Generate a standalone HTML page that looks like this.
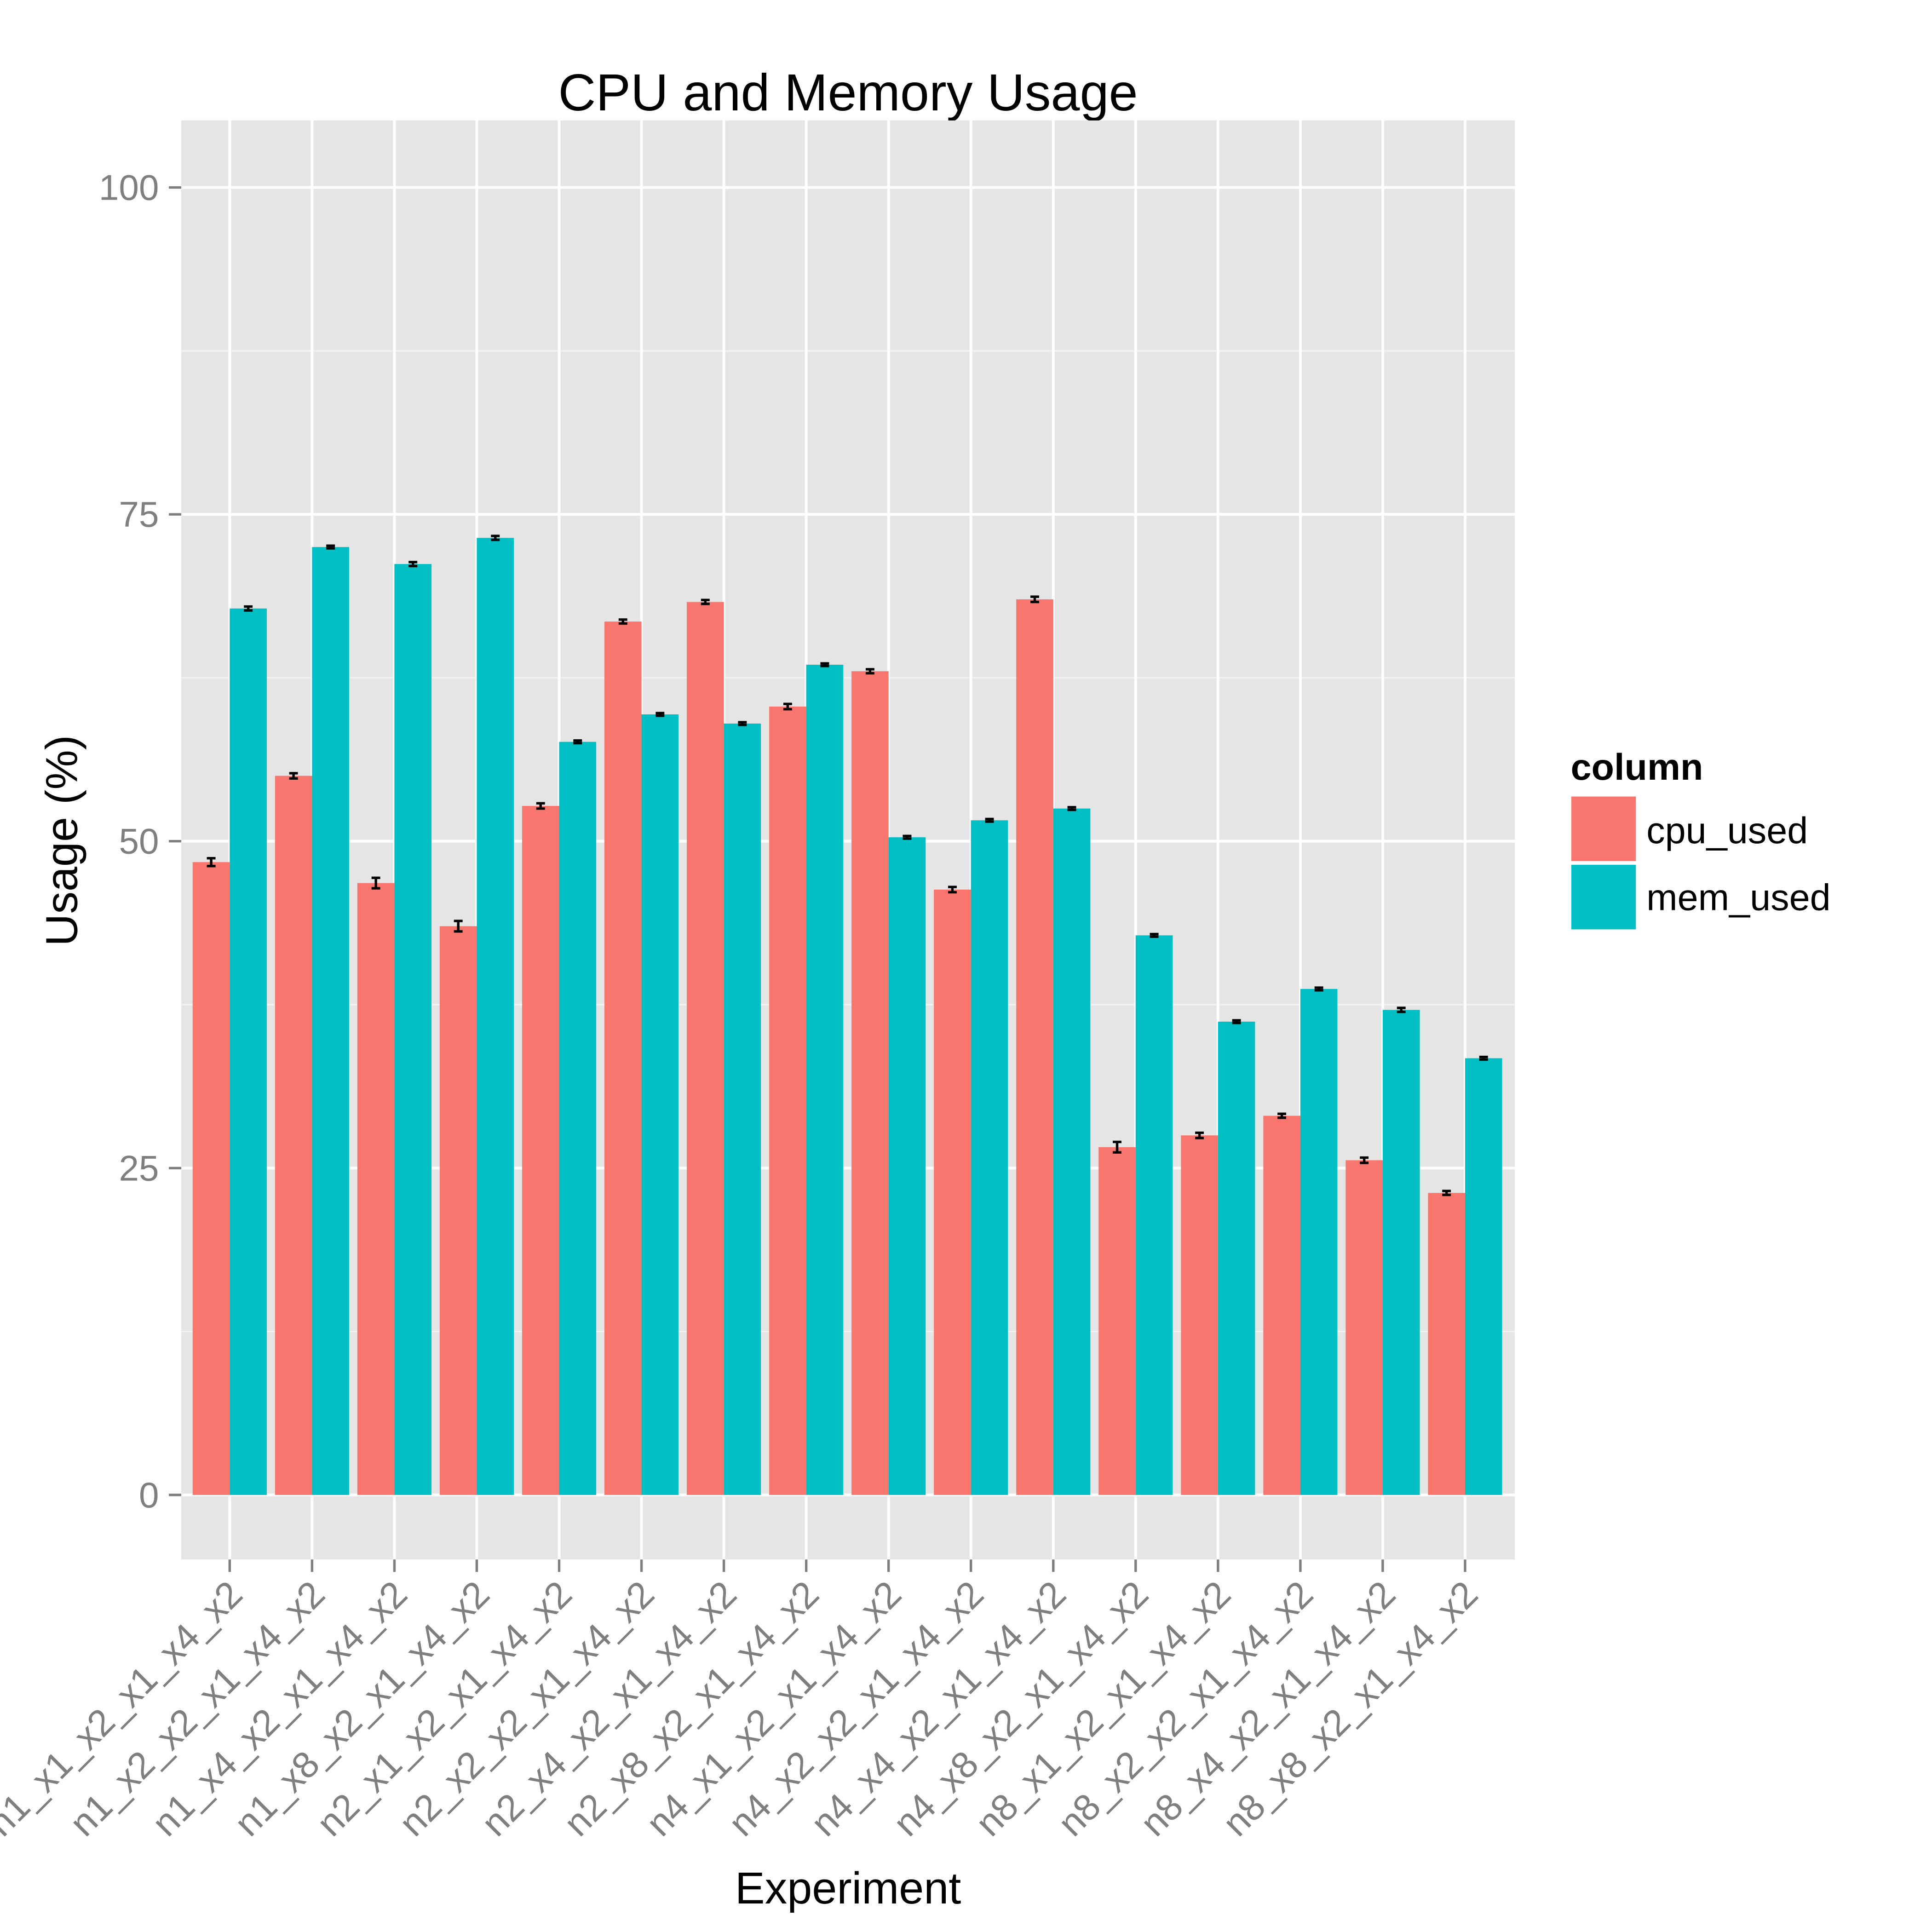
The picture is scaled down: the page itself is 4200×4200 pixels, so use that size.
<!DOCTYPE html>
<html><head><meta charset="utf-8">
<style>html,body{margin:0;padding:0;background:#fff;}svg{display:block;}</style></head>
<body>
<svg id="chart" xmlns="http://www.w3.org/2000/svg" width="4200" height="4200" viewBox="0 0 1556 1556" font-family="Liberation Sans, sans-serif">
<rect width="1556" height="1556" fill="#fff"/>
<text x="683" y="89" font-size="42" text-anchor="middle" fill="#000">CPU and Memory Usage</text>
<rect x="146" y="97" width="1074" height="1159" fill="#e5e5e5"/>
<g id="grid"></g>
<g id="bars"></g>
<g id="axes"></g>
<text x="683" y="1533" font-size="36" text-anchor="middle">Experiment</text>
<text transform="translate(62,677) rotate(-90)" font-size="36" text-anchor="middle">Usage (%)</text>
<g>
<text x="1265" y="628" font-size="30" font-weight="bold">column</text>
<rect x="1265" y="641" width="53" height="53" fill="#f8766d" stroke="#fff" stroke-width="1"/>
<rect x="1265" y="696" width="53" height="53" fill="#00bfc4" stroke="#fff" stroke-width="1"/>
<text x="1326" y="679" font-size="30">cpu_used</text>
<text x="1326" y="733" font-size="30">mem_used</text>
</g>
</svg>
<script>
const categories=["n1_x1_x2_x1_x4_x2","n1_x2_x2_x1_x4_x2","n1_x4_x2_x1_x4_x2","n1_x8_x2_x1_x4_x2","n2_x1_x2_x1_x4_x2","n2_x2_x2_x1_x4_x2","n2_x4_x2_x1_x4_x2","n2_x8_x2_x1_x4_x2","n4_x1_x2_x1_x4_x2","n4_x2_x2_x1_x4_x2","n4_x4_x2_x1_x4_x2","n4_x8_x2_x1_x4_x2","n8_x1_x2_x1_x4_x2","n8_x2_x2_x1_x4_x2","n8_x4_x2_x1_x4_x2","n8_x8_x2_x1_x4_x2"];
const cpuValues=[48.4,55.0,46.8,43.5,52.7,66.8,68.3,60.3,63.0,46.3,68.5,26.6,27.5,29.0,25.6,23.1];
const memValues=[67.8,72.5,71.2,73.2,57.6,59.7,59.0,63.5,50.3,51.6,52.5,42.8,36.2,38.7,37.1,33.4];
const cpuErr=[0.3,0.2,0.4,0.4,0.2,0.15,0.15,0.2,0.15,0.2,0.2,0.4,0.2,0.15,0.2,0.15];
const memErr=[0.15,0.1,0.15,0.15,0.1,0.1,0.1,0.1,0.1,0.1,0.1,0.1,0.1,0.1,0.15,0.1];
const yTicks=[0,25,50,75,100];
const yMinor=[12.5,37.5,62.5,87.5];
const NS="http://www.w3.org/2000/svg";
const y=v=>1204-v*10.53;
const x=i=>185+i*66.33;
const bw=66.33*0.45;
function mk(tag,attrs,parent){const e=document.createElementNS(NS,tag);for(const k in attrs)e.setAttribute(k,attrs[k]);parent.appendChild(e);return e;}
const grid=document.getElementById('grid'),bars=document.getElementById('bars'),axes=document.getElementById('axes');
yMinor.forEach(v=>{const l=mk('line',{x1:146,x2:1220,y1:y(v),y2:y(v),stroke:'#f2f2f2','stroke-width':1.2},grid);

});
yTicks.forEach(v=>{const l=mk('line',{x1:146,x2:1220,y1:y(v),y2:y(v),stroke:'#fff','stroke-width':2.2},grid);


const t=mk('line',{x1:136,x2:146,y1:y(v),y2:y(v),stroke:'#7f7f7f','stroke-width':2},axes);


const tx=mk('text',{x:128,y:y(v)+10,'font-size':29,'text-anchor':'end',fill:'#7f7f7f'},axes);tx.textContent=v;

});
categories.forEach((c,i)=>{const l=mk('line',{x1:x(i),x2:x(i),y1:97,y2:1256,stroke:'#fff','stroke-width':2.2},grid);


const t=mk('line',{x1:x(i),x2:x(i),y1:1256,y2:1266,stroke:'#7f7f7f','stroke-width':2},axes);


const tx=mk('text',{transform:`translate(${x(i)+12},${1286}) rotate(-45)`,'font-size':30,'text-anchor':'end',fill:'#7f7f7f'},axes);tx.textContent=c;


[[cpuValues,cpuErr,'#f8766d',x(i)-bw,'cpu'],[memValues,memErr,'#00bfc4',x(i),'mem']].forEach(([vals,errs,col,bx,nm])=>{
const r=mk('rect',{x:bx,y:y(vals[i]),width:bw,height:y(0)-y(vals[i]),fill:col},bars);


const cx=bx+bw/2,lo=y(vals[i]-errs[i]),hi=y(vals[i]+errs[i]);
const e=mk('path',{d:`M${cx-3.5},${hi}H${cx+3.5}M${cx},${hi}V${lo}M${cx-3.5},${lo}H${cx+3.5}`,stroke:'#000','stroke-width':2,fill:'none'},bars);

});});
</script>
</body></html>
